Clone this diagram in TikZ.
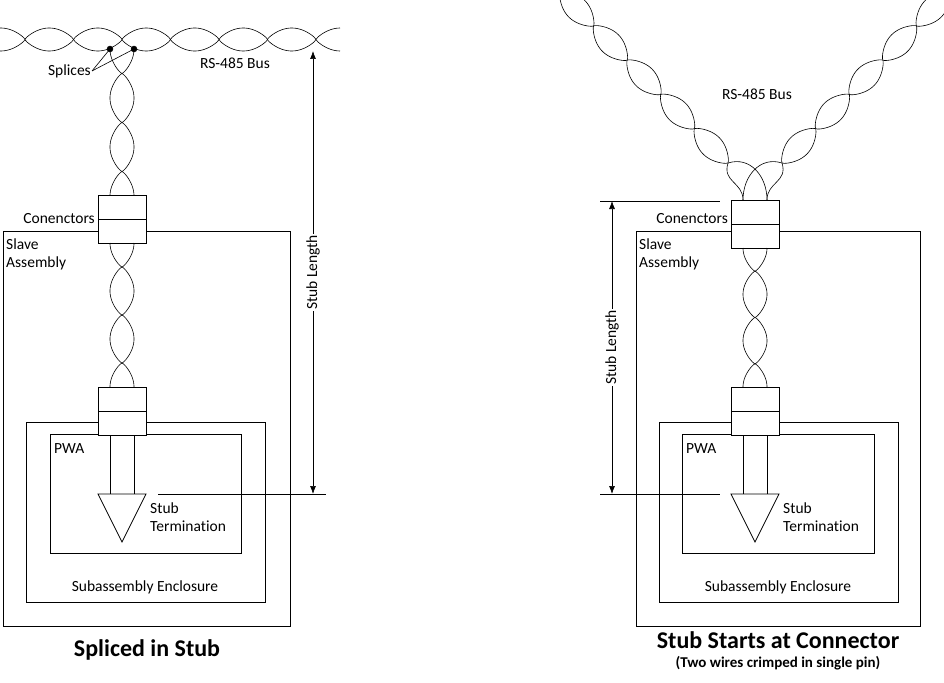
\documentclass[tikz,border=0pt]{standalone}
\usepackage{fontspec}
\setmainfont{Carlito}[Ligatures=NoCommon]
\usetikzlibrary{arrows.meta}
\tikzset{
  wire/.style={line width=0.6pt},
  box/.style={draw, line width=0.7pt, minimum width=48pt, minimum height=24pt, inner sep=0pt},
  lbl/.style={font=\fontsize{15.5}{18}\selectfont, inner sep=1pt},
  dim/.style={line width=0.7pt, {Latex[length=8pt,width=6pt]}-{Latex[length=8pt,width=6pt]}},
  declare function={tw(\t)=sin(\t)/sqrt(sqrt(abs(sin(\t))+0.0001));}
}
\begin{document}
\begin{tikzpicture}[x=1pt,y=-1pt]
    \useasboundingbox (0,0) rectangle (944,682);
    \clip (0,0) rectangle (944,682);

    % ---------------- left: spliced in stub ----------------
    % RS-485 bus along the top
    \draw[wire, domain=0:340, samples=200, smooth, variable=\x] plot ({\x}, {39.5+11.5*tw((\x-25)/48.5*180)});
    \draw[wire, domain=0:340, samples=200, smooth, variable=\x] plot ({\x}, {39.5-11.5*tw((\x-25)/48.5*180)});
    \node[lbl] (busL) at (235,63) {RS-485 Bus};

    % splices
    \filldraw (110,49) circle (3pt) coordinate (spA);
    \filldraw (134,49) circle (3pt) coordinate (spB);
    \node[lbl, anchor=east] (spl) at (92,71) {Splices};
    \draw[wire] (spl.east) -- (spA);
    \draw[wire] (spl.east) -- (spB);

    % twisted stub down to the connectors
    \draw[wire, domain=49:196, samples=100, smooth, variable=\y] plot ({122-12*tw((\y-49)/49*180+90)}, {\y});
    \draw[wire, domain=49:196, samples=100, smooth, variable=\y] plot ({122+12*tw((\y-49)/49*180+90)}, {\y});

    % slave assembly and enclosures
    \draw[line width=0.7pt] (3,231) rectangle (290,626);
    \node[lbl, anchor=north west, align=left] (slaveL) at (5,238) {Slave\\Assembly};
    \draw[line width=0.7pt] (26,422) rectangle (265,602);
    \node[lbl] (subL) at (145,587) {Subassembly Enclosure};
    \draw[line width=0.7pt] (50,434) rectangle (241,553);
    \node[lbl, anchor=west] (pwaL) at (53,449) {PWA};

    \node[box, fill=white] (c1L) at (122,207) {};
    \node[box, fill=white] (c2L) at (122,231) {};
    \node[lbl, anchor=east] (conL) at (96,219) {Conenctors};

    \draw[wire, domain=243:387, samples=100, smooth, variable=\y] plot ({122-12*tw((\y-243)/48*180+90)}, {\y});
    \draw[wire, domain=243:387, samples=100, smooth, variable=\y] plot ({122+12*tw((\y-243)/48*180+90)}, {\y});

    \node[box, fill=white] (c3L) at (122,399) {};
    \node[box, fill=white] (c4L) at (122,423) {};

    % stub termination
    \draw[line width=0.7pt] (110,435) -- (110,494) (134,435) -- (134,494);
    \draw[line width=0.7pt] (98,494) -- (146,494) -- (122,542) -- cycle;
    \node[lbl, anchor=north west, align=left] (termL) at (149,502) {Stub\\Termination};

    % stub length
    \coordinate (dTopL) at (313,51);
    \coordinate (dBotL) at (313,494);
    \draw[line width=0.7pt] (158,494) -- (326,494);
    \draw[dim] (dTopL) -- (dBotL) node[pos=0.5, rotate=90, fill=white, lbl] (lenL) {Stub Length};
    \node[font=\bfseries\fontsize{24}{28}\selectfont] (titleL) at (147,650) {Spliced in Stub};

    % ---------------- right: stub starts at connector ----------------
    % two twisted arms of the bus
    \foreach \s in {1,-1}{
      \draw[wire, domain=0:280, samples=200, smooth, variable=\u]
        plot ({728-0.700*\u+\s*0.714*11.5*tw(\u/48*180)}, {163-0.714*\u-\s*0.700*11.5*tw(\u/48*180)});
      \draw[wire, domain=0:280, samples=200, smooth, variable=\u]
        plot ({782+0.700*\u+\s*0.714*11.5*tw(\u/48*180)}, {163-0.714*\u+\s*0.700*11.5*tw(\u/48*180)});
    }
    \node[lbl] (busR) at (757,94) {RS-485 Bus};

    \draw[line width=0.7pt] (636,231) rectangle (920,626);
    \node[lbl, anchor=north west, align=left] (slaveR) at (638,238) {Slave\\Assembly};
    \draw[line width=0.7pt] (659,422) rectangle (898,602);
    \node[lbl] (subR) at (778,587) {Subassembly Enclosure};
    \draw[line width=0.7pt] (682,434) rectangle (874,553);
    \node[lbl, anchor=west] (pwaR) at (685,449) {PWA};

    \node[box, fill=white] (c1R) at (755,212) {};
    \node[box, fill=white] (c2R) at (755,236) {};
    \node[lbl, anchor=east] (conR) at (729,219) {Conenctors};

    % both arms crimped into the connector pins
    \draw[wire] (728,163) .. controls (722,182) and (743,182) .. (743,200);
    \draw[wire] (728,163) .. controls (750,156) and (767,176) .. (767,200);
    \draw[wire] (782,163) .. controls (788,182) and (767,182) .. (767,200);
    \draw[wire] (782,163) .. controls (760,156) and (743,176) .. (743,200);

    \draw[wire, domain=248:387, samples=100, smooth, variable=\y] plot ({755-12*tw((\y-248)/46.33*180+90)}, {\y});
    \draw[wire, domain=248:387, samples=100, smooth, variable=\y] plot ({755+12*tw((\y-248)/46.33*180+90)}, {\y});

    \node[box, fill=white] (c3R) at (755,399) {};
    \node[box, fill=white] (c4R) at (755,423) {};

    \draw[line width=0.7pt] (743,435) -- (743,494) (767,435) -- (767,494);
    \draw[line width=0.7pt] (731,494) -- (779,494) -- (755,542) -- cycle;
    \node[lbl, anchor=north west, align=left] (termR) at (782,502) {Stub\\Termination};

    \coordinate (dTopR) at (612,201);
    \coordinate (dBotR) at (612,494);
    \draw[line width=0.7pt] (600,201) -- (720,201);
    \draw[line width=0.7pt] (600,494) -- (720,494);
    \draw[dim] (dBotR) -- (dTopR) node[pos=0.5, rotate=90, fill=white, lbl] (lenR) {Stub Length};
    \node[font=\bfseries\fontsize{24}{28}\selectfont] (titleR) at (778,640) {Stub Starts at Connector};
    \node[font=\bfseries\fontsize{15}{18}\selectfont] (subt) at (778,663) {(Two wires crimped in single pin)};
\end{tikzpicture}
\end{document}
